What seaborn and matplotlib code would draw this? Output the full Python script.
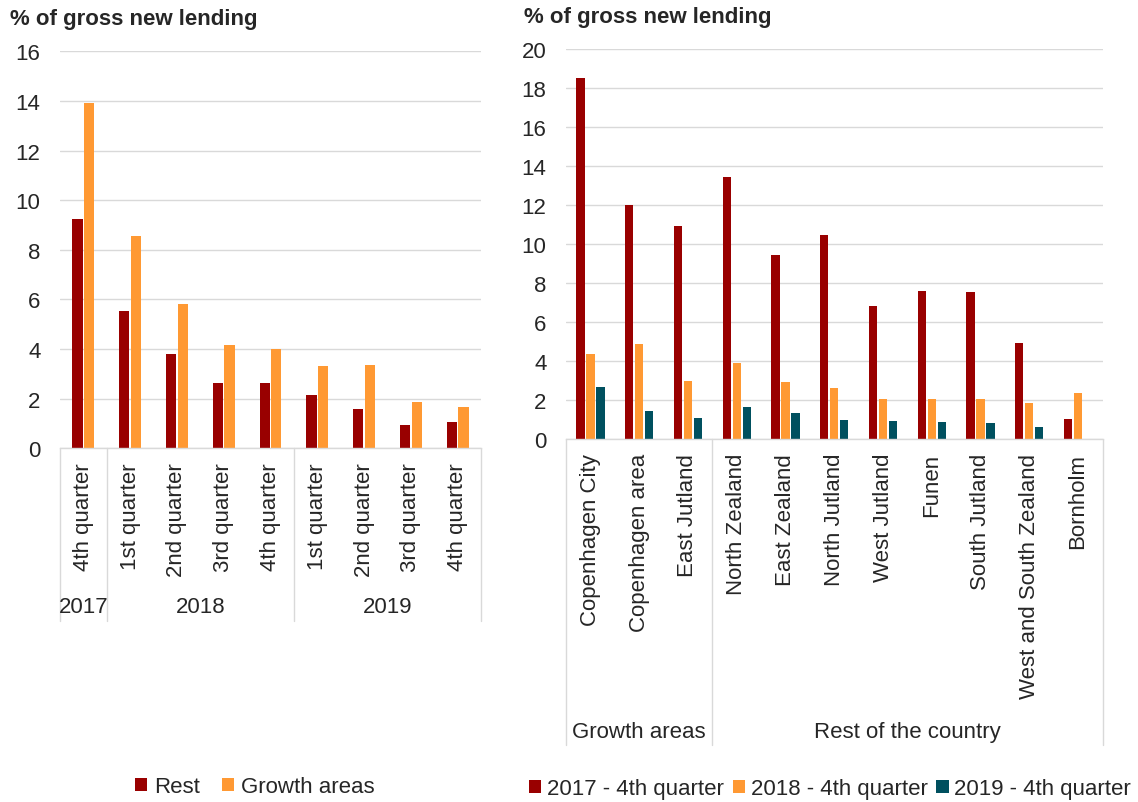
import numpy as np
import pandas as pd
import matplotlib
matplotlib.use("Agg")
import matplotlib.pyplot as plt
import matplotlib.transforms as mtransforms
from matplotlib.patches import Patch
import seaborn as sns

# ---------------- data ----------------
periods = ["2017 Q4", "2018 Q1", "2018 Q2", "2018 Q3", "2018 Q4",
           "2019 Q1", "2019 Q2", "2019 Q3", "2019 Q4"]
quarter_labels = ["4th quarter", "1st quarter", "2nd quarter", "3rd quarter", "4th quarter",
                  "1st quarter", "2nd quarter", "3rd quarter", "4th quarter"]
year_labels = ["2017", "2018", "2019"]
year_spans = [(0, 0), (1, 4), (5, 8)]
left_series = ["Rest", "Growth areas"]
left_rest = [9.25, 5.55, 3.80, 2.62, 2.63, 2.15, 1.60, 0.95, 1.08]
left_growth = [13.93, 8.55, 5.80, 4.18, 4.00, 3.33, 3.35, 1.87, 1.68]

regions = ["Copenhagen City", "Copenhagen area", "East Jutland", "North Zealand",
           "East Zealand", "North Jutland", "West Jutland", "Funen", "South Jutland",
           "West and South Zealand", "Bornholm"]
region_groups = ["Growth areas", "Rest of the country"]
region_spans = [(0, 2), (3, 10)]
right_series = ["2017 - 4th quarter", "2018 - 4th quarter", "2019 - 4th quarter"]
v2017 = [18.50, 12.00, 10.90, 13.45, 9.45, 10.45, 6.82, 7.60, 7.56, 4.90, 1.03]
v2018 = [4.38, 4.85, 2.97, 3.92, 2.92, 2.62, 2.05, 2.05, 2.05, 1.83, 2.36]
v2019 = [2.67, 1.44, 1.08, 1.66, 1.32, 0.97, 0.94, 0.85, 0.83, 0.62, np.nan]

RED = "#990000"
ORANGE = "#FF9933"
TEAL = "#00505F"
GRID = "#D9D9D9"

# ---------------- style ----------------
sns.set_style("white")
plt.rcParams["font.family"] = ["Liberation Sans", "DejaVu Sans"]
FS = 16

fig = plt.figure(figsize=(11.38, 8.03), dpi=100)

W, H = 1138, 803
axL = fig.add_axes([60 / W, 1 - 449.3 / H, 421 / W, 397 / H])
axR = fig.add_axes([566 / W, 1 - 440 / H, 536.5 / W, 390 / H])

# ---------------- left chart ----------------
dfL = pd.DataFrame({
    "period": periods * 2,
    "value": left_rest + left_growth,
    "series": [left_series[0]] * len(periods) + [left_series[1]] * len(periods),
})
sns.barplot(data=dfL, x="period", y="value", hue="series", order=periods,
            hue_order=left_series, palette=[RED, ORANGE], width=0.5, gap=0.12,
            saturation=1, linewidth=0, legend=False, ax=axL)

# ---------------- right chart ----------------
dfR = pd.DataFrame({
    "region": regions * 3,
    "value": v2017 + v2018 + v2019,
    "series": sum([[s] * len(regions) for s in right_series], []),
}).dropna()
sns.barplot(data=dfR, x="region", y="value", hue="series", order=regions,
            hue_order=right_series, palette=[RED, ORANGE, TEAL], width=0.615, gap=0.17,
            saturation=1, linewidth=0, legend=False, ax=axR)


def style_axis(ax, n, ymax, tick_labels, spans, group_labels, line_bottom, label_y):
    ax.set_xlim(-0.5, n - 0.5)
    ax.set_ylim(0, ymax)
    ax.set_yticks(np.arange(0, ymax + 0.1, 2))
    ax.yaxis.grid(True, color=GRID, linewidth=1.0)
    ax.set_axisbelow(True)
    for s in ["top", "right", "left"]:
        ax.spines[s].set_visible(False)
    ax.spines["bottom"].set_color(GRID)
    ax.spines["bottom"].set_linewidth(1.0)
    ax.set_xlabel("")
    ax.set_ylabel("")
    ax.set_xticks(range(n))
    ax.set_xticklabels(tick_labels, rotation=90, fontsize=FS, va="top", ha="center")
    ax.tick_params(axis="x", length=0, pad=10)
    ax.tick_params(axis="y", length=0, pad=14, labelsize=FS)
    trans = mtransforms.blended_transform_factory(ax.transData, ax.transAxes)
    bounds = sorted(set([a - 0.5 for a, b in spans] + [b + 0.5 for a, b in spans]))
    for xb in bounds:
        ax.plot([xb, xb], [0, line_bottom], color=GRID, linewidth=1.0,
                transform=trans, clip_on=False)
    for (a, b), lab in zip(spans, group_labels):
        ax.text((a + b) / 2, label_y, lab, transform=trans, ha="center",
                va="center", fontsize=FS)


style_axis(axL, len(periods), 16, quarter_labels, year_spans, year_labels,
           -(622 - 449.3) / 397, -(608 - 449.3) / 397)
style_axis(axR, len(regions), 20, regions, region_spans, region_groups,
           -(746 - 440) / 390, -(733 - 440) / 390)

# ---------------- titles ----------------
fig.text(10 / W, 1 - 20 / H, "% of gross new lending", fontsize=FS,
         fontweight="bold", ha="left", va="center")
fig.text(524 / W, 1 - 17 / H, "% of gross new lending", fontsize=FS,
         fontweight="bold", ha="left", va="center")

# ---------------- legends ----------------
hL = [Patch(facecolor=c, edgecolor="none") for c in [RED, ORANGE]]
fig.legend(hL, left_series, loc="center", bbox_to_anchor=(255 / W, 1 - 788 / H),
           ncol=2, frameon=False, fontsize=FS, handlelength=0.55, handleheight=0.55,
           handletextpad=0.3, columnspacing=1.0, borderpad=0)
hR = [Patch(facecolor=c, edgecolor="none") for c in [RED, ORANGE, TEAL]]
fig.legend(hR, right_series, loc="center", bbox_to_anchor=(830 / W, 1 - 790 / H),
           ncol=3, frameon=False, fontsize=FS, handlelength=0.55, handleheight=0.55,
           handletextpad=0.25, columnspacing=0.4, borderpad=0)

fig.savefig("out.png", dpi=100, facecolor="white")
